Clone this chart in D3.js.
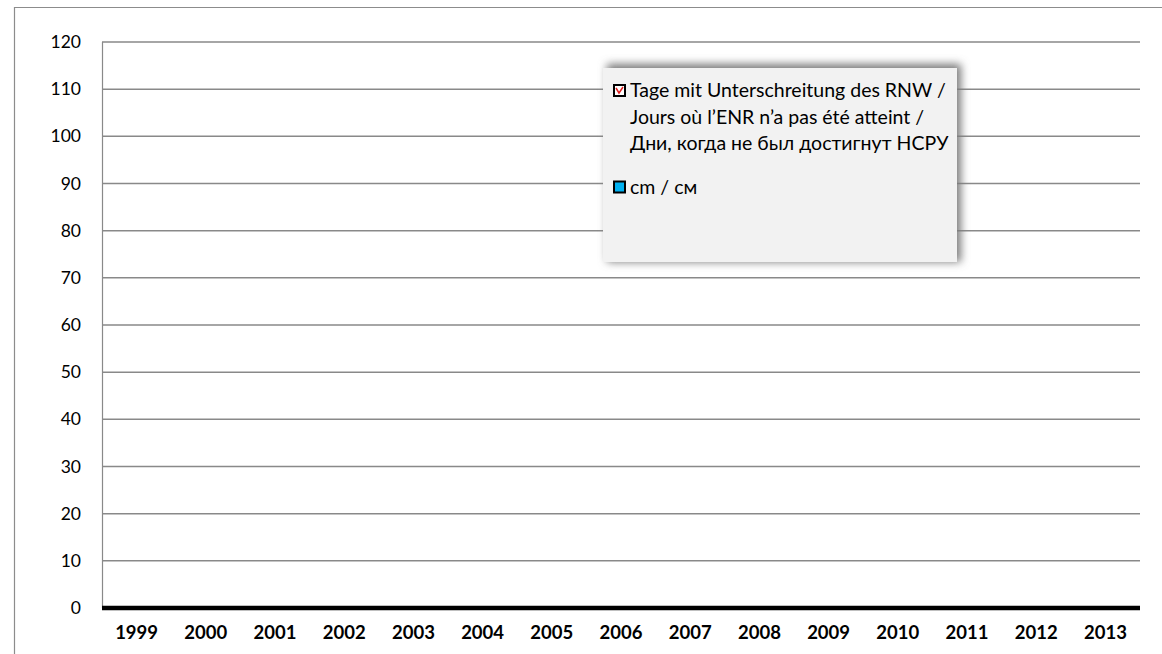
<!DOCTYPE html>
<html>
<head>
<meta charset="utf-8">
<script src="https://cdn.jsdelivr.net/npm/d3@7"></script>
<style>
  body { margin: 0; background: #fff; }
  svg text { font-family: Lato, "Open Sans", sans-serif; fill: #000; }
</style>
</head>
<body>
<div id="graph"></div>
<script>
var years = ['1999','2000','2001','2002','2003','2004','2005','2006','2007','2008','2009','2010','2011','2012','2013']
var daysBelow = [0,0,0,0,0,0,0,0,0,0,0,0,0,0,0]
var cm = [0,0,0,0,0,0,0,0,0,0,0,0,0,0,0]
var yTicks = [0,10,20,30,40,50,60,70,80,90,100,110,120]
var legendLabels = [
  ['Tage mit Unterschreitung des RNW /', 'Jours où l’ENR n’a pas été atteint /', 'Дни, когда не был достигнут НСРУ'],
  ['cm  / см']
]

var w = 1162, h = 654
var m = {left: 102, right: 22, top: 42, bottom: 46}

var svg = d3.select('#graph')
  .html('')
  .append('svg')
  .attr('width', w)
  .attr('height', h)

var defs = svg.append('defs')
var blur = defs.append('filter').attr('id', 'shadow')
  .attr('x', '-10%').attr('y', '-10%').attr('width', '130%').attr('height', '130%')
blur.append('feGaussianBlur').attr('stdDeviation', 4)

// outer chart frame
svg.append('path')
  .attr('d', 'M14.5,' + h + ' L14.5,7.5 L' + w + ',7.5')
  .attr('fill', 'none')
  .attr('stroke', '#8c8c8c')
  .attr('stroke-width', 1.2)

var x = d3.scaleBand()
  .domain(years)
  .range([m.left, w - m.right])

var y = d3.scaleLinear()
  .domain([0, 120])
  .range([h - m.bottom, m.top])

// gridlines
svg.append('g').selectAll('line')
  .data(yTicks.filter(d => d > 0))
  .enter().append('line')
  .attr('x1', m.left).attr('x2', w - m.right)
  .attr('y1', d => y(d)).attr('y2', d => y(d))
  .attr('stroke', '#898989')
  .attr('stroke-width', 1.5)

// y axis line
svg.append('line')
  .attr('x1', m.left + 0.5).attr('x2', m.left + 0.5)
  .attr('y1', y(120)).attr('y2', y(0))
  .attr('stroke', '#898989')
  .attr('stroke-width', 1.2)

// y tick labels
svg.append('g').selectAll('text')
  .data(yTicks)
  .enter().append('text')
  .attr('x', 81)
  .attr('y', d => y(d))
  .attr('dy', '0.35em')
  .attr('text-anchor', 'end')
  .style('font-size', '17.5px')
  .text(d => d)

// bars (all zero)
var inner = d3.scaleBand().domain([0, 1]).range([0, x.bandwidth()]).padding(0.1)
var g = svg.append('g')
years.forEach(function(yr, i) {
  [daysBelow[i], cm[i]].forEach(function(v, j) {
    g.append('rect')
      .attr('x', x(yr) + inner(j))
      .attr('width', inner.bandwidth())
      .attr('y', y(v))
      .attr('height', y(0) - y(v))
      .attr('fill', j ? '#00b0f0' : '#fff')
  })
})

// category axis line
svg.append('line')
  .attr('x1', m.left).attr('x2', w - m.right)
  .attr('y1', y(0)).attr('y2', y(0))
  .attr('stroke', '#000')
  .attr('stroke-width', 4.5)

// x labels
svg.append('g').selectAll('text')
  .data(years)
  .enter().append('text')
  .attr('x', d => x(d) + x.bandwidth() / 2)
  .attr('y', 639)
  .attr('text-anchor', 'middle')
  .style('font-size', '18.5px')
  .style('font-weight', 'bold')
  .text(d => d)

// legend
var lg = svg.append('g')
lg.append('rect')
  .attr('x', 607).attr('y', 64).attr('width', 354).attr('height', 198)
  .attr('fill', '#7a7a7a')
  .attr('filter', 'url(#shadow)')
lg.append('rect')
  .attr('x', 603).attr('y', 68).attr('width', 354).attr('height', 194)
  .attr('fill', '#f2f2f2')

var entryY = [90.5, 187]
legendLabels.forEach(function(lines, i) {
  var cy = entryY[i]
  lg.append('rect')
    .attr('x', 614).attr('y', cy - 5.5)
    .attr('width', 11).attr('height', 11)
    .attr('fill', i ? '#00b0f0' : '#fff')
    .attr('stroke', '#000')
    .attr('stroke-width', 2)
  if (i === 0) {
    lg.append('path')
      .attr('d', 'M616,' + (cy - 2.5) + ' L619,' + (cy + 2.5) + ' L623,' + (cy - 3.5))
      .attr('fill', 'none')
      .attr('stroke', '#e02020')
      .attr('stroke-width', 1.5)
  }
  lines.forEach(function(t, k) {
    lg.append('text')
      .attr('x', 630)
      .attr('y', cy + k * 26.5)
      .attr('dy', '0.35em')
      .style('font-size', '19.5px')
      .text(t)
  })
})
</script>
</body>
</html>
